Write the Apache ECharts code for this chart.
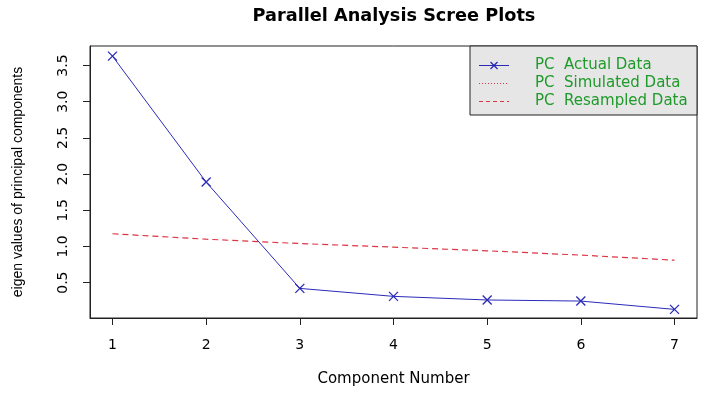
<!DOCTYPE html>
<html>
<head>
<meta charset="utf-8">
<script src="https://cdn.jsdelivr.net/npm/echarts@6/dist/echarts.min.js"></script>
<style>
  html, body { margin: 0; padding: 0; background: #fff; }
  #chart { width: 709px; height: 396px; }
</style>
</head>
<body>
<div id="chart"></div>
<script>
const components = [1, 2, 3, 4, 5, 6, 7];
const actualData = [3.63, 1.89, 0.42, 0.31, 0.26, 0.245, 0.13];
const resampledData = [1.175, 1.10, 1.04, 0.99, 0.94, 0.88, 0.81];
const simulatedData = []; // hidden behind the resampled line in the original
const yTicks = [0.5, 1.0, 1.5, 2.0, 2.5, 3.0, 3.5];

const wide = 'DejaVu Sans, Verdana, sans-serif';
const narrow = 'Liberation Sans, Arial, sans-serif';
const blue = '#2a2ab8';
const red = '#dc3545';
const green = '#1f9a2a';

// legend icons as small inline svgs (line + marker, dotted, dashed)
const svgIcon = body => 'image://data:image/svg+xml;charset=utf-8,' + encodeURIComponent(
  '<svg xmlns="http://www.w3.org/2000/svg" width="30" height="13">' + body + '</svg>');
const actualIcon = svgIcon(
  `<line x1="0" y1="6.5" x2="30" y2="6.5" stroke="${blue}" stroke-width="1"/>` +
  `<path d="M11.5,3L18.5,10M18.5,3L11.5,10" stroke="${blue}" stroke-width="1.3" fill="none"/>`);
const dotIcon = svgIcon(
  `<line x1="0" y1="6.5" x2="30" y2="6.5" stroke="${red}" stroke-width="1" stroke-dasharray="1,2"/>`);
const dashIcon = svgIcon(
  `<line x1="0" y1="6.5" x2="30" y2="6.5" stroke="${red}" stroke-width="1.2" stroke-dasharray="4,3"/>`);

const chart = echarts.init(document.getElementById('chart'));

const option = {
  animation: false,
  title: {
    text: 'Parallel Analysis Scree Plots',
    left: 389,
    textAlign: 'center',
    top: 2,
    textStyle: { fontFamily: wide, fontSize: 17.7, fontWeight: 'bold', color: '#000' }
  },
  grid: {
    left: 90, right: 12, top: 46, bottom: 78,
    show: true, borderColor: '#222', borderWidth: 1
  },
  graphic: [{
    type: 'rect',
    z: 10,
    shape: { x: 470, y: 46, width: 227, height: 69 },
    style: { fill: '#e6e6e6', stroke: '#222', lineWidth: 1 }
  }],
  legend: {
    z: 20,
    orient: 'vertical',
    left: 474,
    top: 53,
    itemWidth: 30,
    itemHeight: 13,
    itemGap: 3,
    textStyle: { fontFamily: wide, fontSize: 15, color: green, padding: [0, 0, 0, 21] },
    data: [
      { name: 'PC  Actual Data', icon: actualIcon },
      { name: 'PC  Simulated Data', icon: dotIcon },
      { name: 'PC  Resampled Data', icon: dashIcon }
    ]
  },
  xAxis: {
    type: 'value',
    min: 0.76,
    max: 7.24,
    name: 'Component Number',
    nameLocation: 'middle',
    nameGap: 54,
    nameTextStyle: { fontFamily: wide, fontSize: 15, color: '#000' },
    axisLine: { show: true, lineStyle: { color: '#222' } },
    axisTick: { show: true, length: 7, customValues: components, lineStyle: { color: '#222' } },
    axisLabel: { customValues: components, margin: 20, fontFamily: wide, fontSize: 14, color: '#000' },
    splitLine: { show: false }
  },
  yAxis: {
    type: 'value',
    min: 0.011,
    max: 3.77,
    name: 'eigen values of principal components',
    nameLocation: 'middle',
    nameGap: 65,
    nameTextStyle: { fontFamily: narrow, fontSize: 14, color: '#000' },
    axisLine: { show: true, lineStyle: { color: '#222' } },
    axisTick: { show: true, length: 7, customValues: yTicks, lineStyle: { color: '#222' } },
    axisLabel: {
      customValues: yTicks, rotate: 90, margin: 20,
      fontFamily: wide, fontSize: 14, color: '#000',
      formatter: v => v.toFixed(1)
    },
    splitLine: { show: false }
  },
  series: [
    {
      name: 'PC  Actual Data',
      type: 'line',
      data: components.map((c, i) => [c, actualData[i]]),
      symbol: 'path://M0,0L10,10M10,0L0,10',
      symbolSize: 9,
      itemStyle: { color: 'rgba(0,0,0,0)', borderColor: blue, borderWidth: 1.3 },
      lineStyle: { color: blue, width: 1 },
      z: 3
    },
    {
      name: 'PC  Simulated Data',
      type: 'line',
      data: simulatedData,
      symbol: 'none',
      itemStyle: { color: red },
      lineStyle: { color: red, width: 1, type: [1.5, 2] }
    },
    {
      name: 'PC  Resampled Data',
      type: 'line',
      data: components.map((c, i) => [c, resampledData[i]]),
      symbol: 'none',
      itemStyle: { color: red },
      lineStyle: { color: red, width: 1.2, type: [6, 4] }
    }
  ]
};

chart.setOption(option);
</script>
</body>
</html>
